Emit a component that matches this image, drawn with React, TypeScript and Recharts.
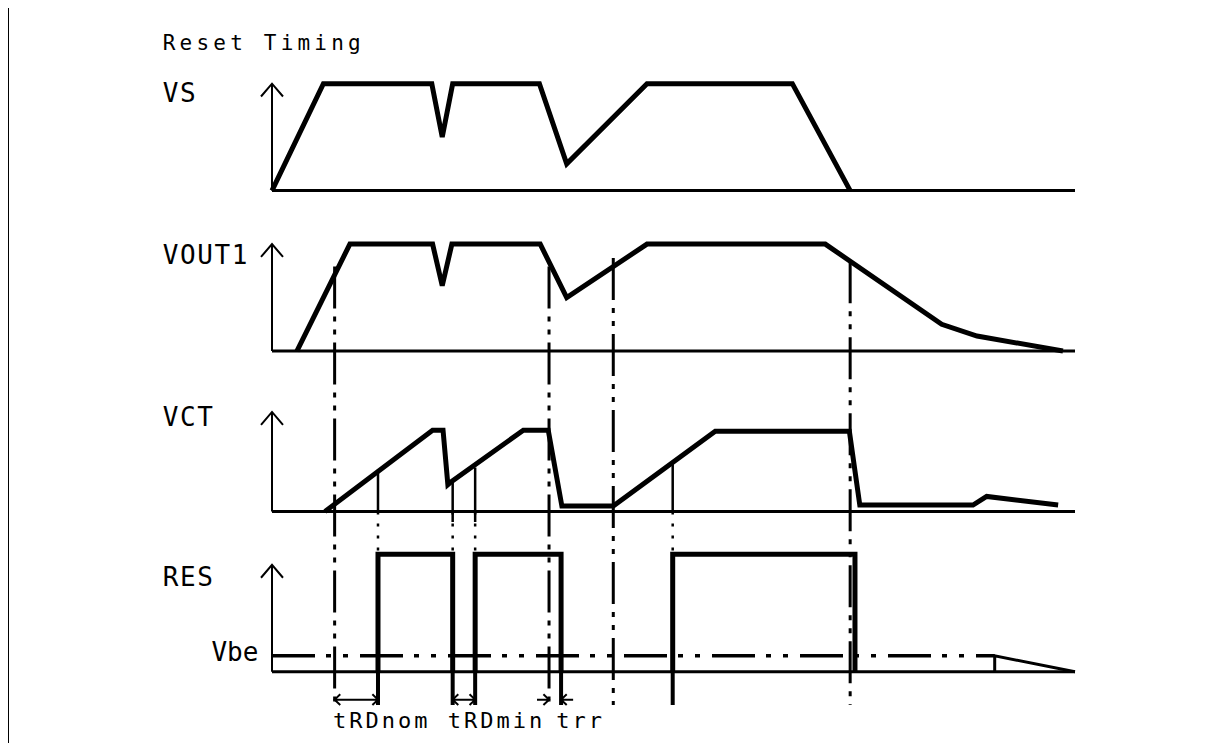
import React from 'react'
import { ComposedChart, Line, XAxis, YAxis, ReferenceDot } from 'recharts'

type Pt = { t: number; v: number | null }
type XY = [number, number]

// time runs 0..100 along each panel's horizontal axis
const X_DOMAIN: [number, number] = [-20, 110]
const Y_DOMAIN: [number, number] = [-0.6, 6.0]

// panel baselines (stacked from RES at the bottom up to VS)
const panels = ['VS', 'VOUT1', 'VCT', 'RES']
const panelOffset = [4.5, 3.0, 1.5, 0]
const axisTop = [1.0, 1.0, 0.93, 1.0]

// waveforms, [time, level] with level relative to the panel baseline
const vsWave: XY[] = [
  [0, 0], [6.4, 1], [19.9, 1], [21.2, 0.5], [22.5, 1], [33.3, 1],
  [36.7, 0.25], [46.7, 1], [64.8, 1], [72.0, 0],
]
const vout1Wave: XY[] = [
  [3.1, 0], [9.7, 1], [20.0, 1], [21.2, 0.61], [22.4, 1], [33.4, 1],
  [36.7, 0.5], [46.7, 1], [68.9, 1], [83.4, 0.25], [87.8, 0.14], [98.5, 0],
]
const vctWave: XY[] = [
  [6.6, 0], [20.0, 0.76], [21.3, 0.76], [21.9, 0.25], [22.2, 0.27], [31.3, 0.76],
  [34.4, 0.76], [36.1, 0.05], [42.5, 0.05], [55.2, 0.75], [71.9, 0.75],
  [73.2, 0.06], [87.3, 0.06], [89.0, 0.14], [97.9, 0.06],
]
// RES pulses [rise, fall]
const resPulses: XY[] = [[13.2, 22.5], [25.3, 36.0], [49.9, 72.6]]
const RES_HIGH = 1.1

// Vbe threshold level on RES panel
const VBE = 0.15
const VBE_END = 90

// dash-dot timing markers: [time, top level on VOUT1]
const mainMarkers: XY[] = [[7.8, 0.79], [34.5, 0.79], [42.5, 0.87], [72.0, 0.84]]
// VCT threshold crossings: [time, level on VCT]
const vctMarkers: XY[] = [[13.2, 0.39], [22.5, 0.27], [25.3, 0.41], [49.9, 0.44]]
// edges continued below RES baseline
const edgeTicks = [13.2, 22.5, 25.3, 36.0, 49.9]
const MARK_BOTTOM = -0.31

// dimension arrows under the diagram
const DIM_Y = -0.26
const dimSpans: XY[] = [[7.8, 13.2], [22.5, 25.3]]
const trrSpan: XY = [34.5, 36.0]

const labels = [
  { text: 'Reset Timing', t: -13.6, v: 5.885, size: 21, spacing: 4.2, side: 'right' },
  { text: 'VS', t: -13.6, v: 5.413, size: 26, spacing: 1.6, side: 'right' },
  { text: 'VOUT1', t: -13.6, v: 3.898, size: 26, spacing: 1.6, side: 'right' },
  { text: 'VCT', t: -13.6, v: 2.383, size: 26, spacing: 1.6, side: 'right' },
  { text: 'RES', t: -13.6, v: 0.892, size: 26, spacing: 1.6, side: 'right' },
  { text: 'Vbe', t: -1.7, v: 0.186, size: 26, spacing: 0, side: 'left' },
  { text: 'tRDnom', t: 7.6, v: -0.45, size: 22, spacing: 3, side: 'right' },
  { text: 'tRDmin', t: 21.9, v: -0.45, size: 22, spacing: 3, side: 'right' },
  { text: 'trr', t: 35.4, v: -0.45, size: 22, spacing: 3, side: 'right' },
]

const FONT = '"DejaVu Sans Mono", monospace'

function join(paths: XY[][]): Pt[] {
  const out: Pt[] = []
  paths.forEach((p, i) => {
    if (i > 0) out.push({ t: p[0][0], v: null })
    p.forEach(([t, v]) => out.push({ t, v }))
  })
  return out
}

const lift = (pts: XY[], off: number): XY[] => pts.map(([t, v]) => [t, v + off])

const AH_T = 0.7
const AH_V = 0.05
// arrowhead whose tip is at t, pointing in direction dir (+1 right, -1 left)
const head = (t: number, dir: number): XY[] => [
  [t - dir * AH_T, DIM_Y + AH_V], [t, DIM_Y], [t - dir * AH_T, DIM_Y - AH_V],
]

const baselines = join(panelOffset.map(o => [[0, o], [100, o]] as XY[]))
const yAxes = join(
  panelOffset.flatMap((o, i) => [
    [[0, o], [0, o + axisTop[i]]] as XY[],
    [[-1.37, o + axisTop[i] - 0.12], [0, o + axisTop[i]], [1.37, o + axisTop[i] - 0.12]] as XY[],
  ]),
)
const waves = join([
  lift(vsWave, panelOffset[0]),
  lift(vout1Wave, panelOffset[1]),
  lift(vctWave, panelOffset[2]),
  ...resPulses.map(([r, f]) => [[r, 0], [r, RES_HIGH], [f, RES_HIGH], [f, 0]] as XY[]),
])
const dashDot = join(mainMarkers.map(([t, top]) => [[t, panelOffset[1] + top], [t, MARK_BOTTOM]] as XY[]))
const vctTicks = join(
  vctMarkers.map(([t, top]) => [[t, panelOffset[2] + top], [t, panelOffset[2] - (t > 20 && t < 30 ? 0.1 : 0)]] as XY[]),
)
const vctDots = join(vctMarkers.map(([t]) => [[t, panelOffset[2]], [t, RES_HIGH]] as XY[]))
const lowTicks = join(edgeTicks.map(t => [[t, 0], [t, MARK_BOTTOM]] as XY[]))
const vbeLine = join([[[0, VBE], [VBE_END, VBE]]])
const vbeTail = join([
  [[VBE_END, 0], [VBE_END, VBE], [100, 0]],
])
const dimArrows = join([
  ...dimSpans.flatMap(([a, b]) => [[[a, DIM_Y], [b, DIM_Y]] as XY[], head(a, -1), head(b, 1)]),
  [[trrSpan[0] - 1.5, DIM_Y], [trrSpan[0], DIM_Y]],
  head(trrSpan[0], 1),
  [[trrSpan[1] + 1.5, DIM_Y], [trrSpan[1], DIM_Y]],
  head(trrSpan[1], -1),
])

const series = [
  { key: 'baselines', data: baselines, width: 3, dash: undefined },
  { key: 'yAxes', data: yAxes, width: 2, dash: undefined },
  { key: 'vbe', data: vbeLine, width: 3.5, dash: '43 11 5 12 5 12' },
  { key: 'vbeTail', data: vbeTail, width: 3, dash: undefined },
  { key: 'dashDot', data: dashDot, width: 3, dash: '42 8 5 8 5 8' },
  { key: 'vctDots', data: vctDots, width: 2.5, dash: '3 9' },
  { key: 'vctTicks', data: vctTicks, width: 2.5, dash: undefined },
  { key: 'lowTicks', data: lowTicks, width: 4, dash: undefined },
  { key: 'dims', data: dimArrows, width: 2, dash: undefined },
  { key: 'waves', data: waves, width: 5, dash: undefined },
]

export default function App() {
  return (
    <div style={{ position: 'relative', width: 1210, height: 735, background: '#fff' }}>
      <ComposedChart width={1210} height={735} margin={{ top: 22.2, right: 62.7, bottom: 7, left: 103.4 }}>
        <XAxis type="number" dataKey="t" domain={X_DOMAIN} allowDataOverflow hide />
        <YAxis type="number" domain={Y_DOMAIN} allowDataOverflow hide />
        {series.map(s => (
          <Line
            key={s.key}
            data={s.data}
            dataKey="v"
            type="linear"
            stroke="#000"
            strokeWidth={s.width}
            strokeDasharray={s.dash}
            strokeLinejoin="miter"
            dot={false}
            activeDot={false}
            connectNulls={false}
            legendType="none"
            isAnimationActive={false}
          />
        ))}
        {labels.map(l => (
          <ReferenceDot
            key={l.text}
            x={l.t}
            y={l.v}
            r={0}
            fill="none"
            stroke="none"
            ifOverflow="visible"
            label={{
              value: l.text,
              position: l.side as 'right' | 'left',
              offset: 0,
              fill: '#000',
              fontSize: l.size,
              fontFamily: FONT,
              letterSpacing: l.spacing,
            }}
          />
        ))}
      </ComposedChart>
      <div
        style={{
          position: 'absolute', left: -2, top: -4, width: 1220, height: 751,
          boxSizing: 'border-box', borderTop: '3px solid #000', borderLeft: '3px solid #000',
          pointerEvents: 'none',
        }}
      />
    </div>
  )
}
